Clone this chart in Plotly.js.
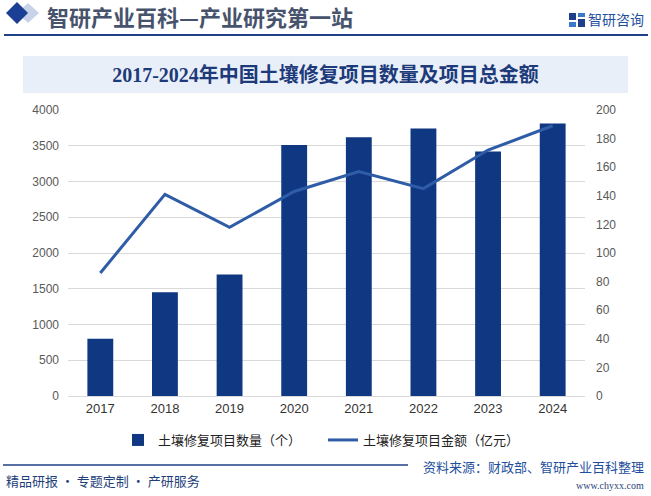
<!DOCTYPE html>
<html>
<head>
<meta charset="utf-8">
<script src="https://cdn.plot.ly/plotly-3.0.1.min.js"></script>
<style>
  html, body { margin: 0; padding: 0; background: #fff; }
  #chart { width: 651px; height: 496px; }
</style>
</head>
<body>
<div id="chart"></div>
<script>
// data
const years = ["2017", "2018", "2019", "2020", "2021", "2022", "2023", "2024"];
const projectCount = [800, 1450, 1700, 3510, 3620, 3740, 3420, 3810];
const projectAmount = [86, 141, 118, 143, 157, 145, 172, 189];

const countName = "土壤修复项目数量（个）";
const amountName = "土壤修复项目金额（亿元）";

// plot area in pixels: x 68..585, y 110..396
const L = 68, R = 585, T = 110, B = 396;
const px = (x) => (x - L) / (R - L);
const py = (y) => (B - y) / (B - T);

const cjk = "Liberation Sans, Noto Sans CJK SC, sans-serif";
const navy = "#1f3f8a";

const barTrace = {
  x: years,
  y: projectCount,
  type: "bar",
  name: countName,
  marker: { color: "#0f3782" },
  yaxis: "y",
};

const lineTrace = {
  x: years,
  y: projectAmount,
  type: "scatter",
  mode: "lines",
  name: amountName,
  line: { color: "#2f5ca6", width: 3 },
  yaxis: "y2",
};

const shapes = [
  // header diamonds
  { type: "path", xref: "paper", yref: "paper",
    path: `M ${px(17)} ${py(13)} L ${px(28)} ${py(3)} L ${px(39)} ${py(13)} L ${px(28)} ${py(23)} Z`,
    fillcolor: "#c8d3ea", line: { width: 0 } },
  { type: "path", xref: "paper", yref: "paper",
    path: `M ${px(6)} ${py(13)} L ${px(17)} ${py(2)} L ${px(28)} ${py(13)} L ${px(17)} ${py(24)} Z`,
    fillcolor: "#1a3f94", line: { width: 0 } },
  // header rule
  { type: "line", xref: "paper", yref: "paper",
    x0: px(4), x1: px(648), y0: py(35), y1: py(35),
    line: { color: navy, width: 2 } },
  // logo icon blocks
  { type: "rect", xref: "paper", yref: "paper", x0: px(569), x1: px(576), y0: py(13), y1: py(20),
    fillcolor: "#1f3f8a", line: { width: 0 } },
  { type: "rect", xref: "paper", yref: "paper", x0: px(578), x1: px(585), y0: py(13), y1: py(17),
    fillcolor: "#3a78c9", line: { width: 0 } },
  { type: "rect", xref: "paper", yref: "paper", x0: px(569), x1: px(576), y0: py(22), y1: py(27),
    fillcolor: "#3a78c9", line: { width: 0 } },
  { type: "rect", xref: "paper", yref: "paper", x0: px(578), x1: px(585), y0: py(19), y1: py(27),
    fillcolor: "#1f3f8a", line: { width: 0 } },
  // title band
  { type: "rect", xref: "paper", yref: "paper", layer: "below",
    x0: px(23), x1: px(628), y0: py(56), y1: py(93),
    fillcolor: "#e9eff8", line: { width: 0 } },
  // footer rule
  { type: "line", xref: "paper", yref: "paper",
    x0: px(3), x1: px(408), y0: py(465), y1: py(465),
    line: { color: navy, width: 1.5 } },
];

const annotations = [
  { text: "智研产业百科—产业研究第一站", xref: "paper", yref: "paper",
    x: px(45), y: py(16), xanchor: "left", yanchor: "middle", showarrow: false,
    font: { family: "Noto Sans CJK SC", size: 22, color: "#47536d", weight: 700 } },
  { text: "智研咨询", xref: "paper", yref: "paper",
    x: px(646), y: py(19), xanchor: "right", yanchor: "middle", showarrow: false,
    font: { family: "Noto Sans CJK SC", size: 14, color: "#1f4f9e" } },
  { text: "资料来源：财政部、智研产业百科整理", xref: "paper", yref: "paper",
    x: px(646), y: py(466), xanchor: "right", yanchor: "middle", showarrow: false,
    font: { family: "Noto Sans CJK SC", size: 13, color: "#1f4f9e" } },
  { text: "精品研报 · 专题定制 · 产研服务", xref: "paper", yref: "paper",
    x: px(4), y: py(481), xanchor: "left", yanchor: "middle", showarrow: false,
    font: { family: "Noto Sans CJK SC", size: 13, color: "#1f3f7a" } },
  { text: "www.chyxx.com", xref: "paper", yref: "paper",
    x: px(646), y: py(485), xanchor: "right", yanchor: "middle", showarrow: false,
    font: { family: "Liberation Serif", size: 10, color: "#1f3f7a" } },
];

const layout = {
  width: 651,
  height: 496,
  margin: { l: L, r: 651 - R, t: T, b: 496 - B, pad: 0 },
  paper_bgcolor: "#ffffff",
  plot_bgcolor: "#ffffff",
  font: { family: cjk, size: 12, color: "#595959" },
  title: {
    text: "2017-2024年中国土壤修复项目数量及项目总金额",
    x: 0.5, xref: "container", xanchor: "center",
    y: 1 - 75 / 496, yref: "container", yanchor: "middle",
    font: { family: "Liberation Serif, Noto Sans CJK SC", size: 20, color: "#1d3a7a", weight: 700 },
  },
  bargap: 0.6,
  showlegend: true,
  legend: {
    orientation: "h",
    x: px(118), xanchor: "left",
    y: py(440), yanchor: "middle",
    entrywidth: 160,
    entrywidthmode: "pixels",
    font: { family: "Noto Sans CJK SC", size: 13, color: "#222222" },
    traceorder: "normal",
  },
  xaxis: {
    type: "category",
    showgrid: false,
    showline: true,
    linecolor: "#d9d9d9",
    linewidth: 1,
    ticks: "",
    tickfont: { family: "Liberation Sans", size: 13, color: "#333333" },
  },
  yaxis: {
    range: [0, 4000],
    dtick: 500,
    showgrid: true,
    gridcolor: "#d9d9d9",
    gridwidth: 1,
    zeroline: false,
    ticks: "",
    ticklabelstandoff: 8,
    tickfont: { family: "Liberation Sans", size: 12, color: "#595959" },
  },
  yaxis2: {
    overlaying: "y",
    side: "right",
    range: [0, 200],
    dtick: 20,
    showgrid: false,
    zeroline: false,
    ticks: "",
    ticklabelstandoff: 10,
    tickfont: { family: "Liberation Sans", size: 12, color: "#595959" },
  },
  shapes: shapes,
  annotations: annotations,
};

Plotly.newPlot("chart", [barTrace, lineTrace], layout, { staticPlot: true });
</script>
</body>
</html>
